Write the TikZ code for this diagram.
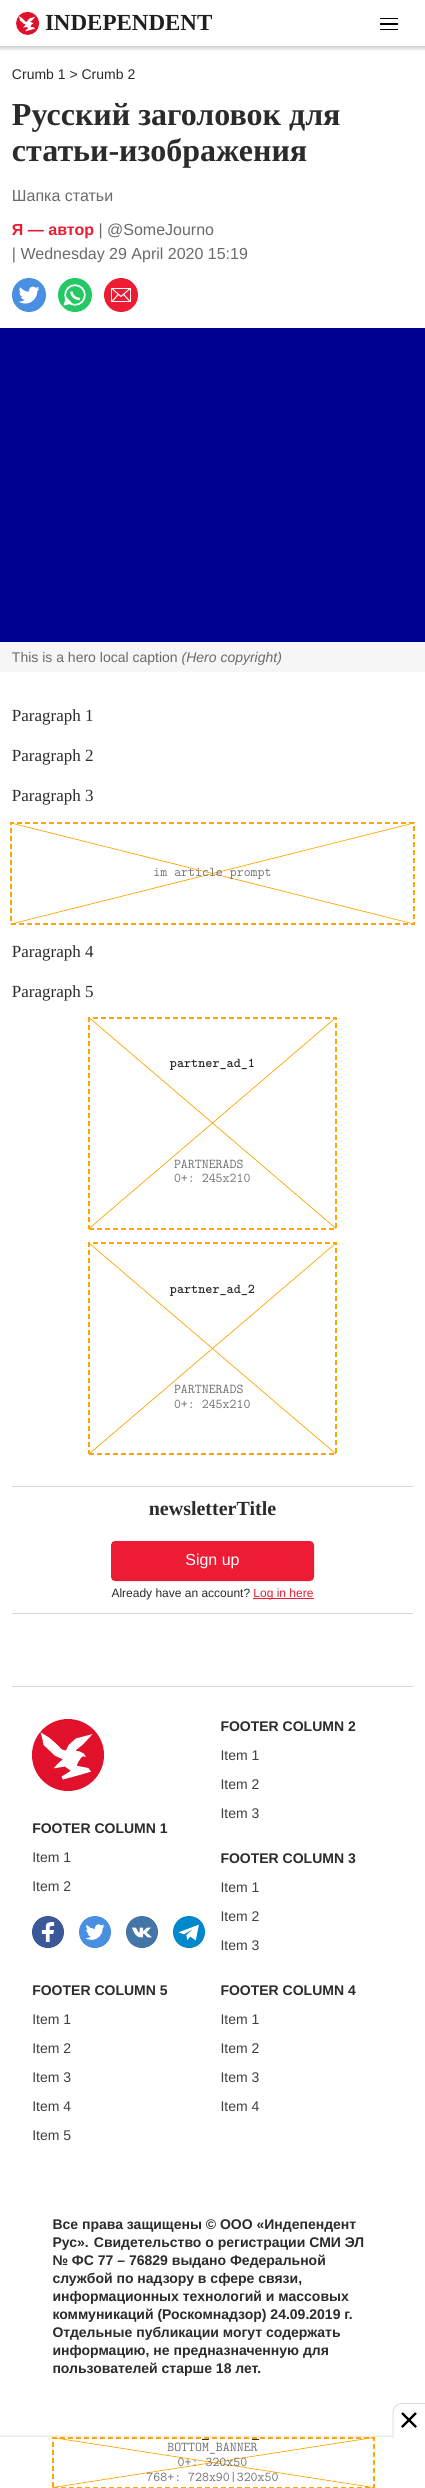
\documentclass[tikz,border=0pt]{standalone}
\usepackage{fontspec}
\setmainfont{Liberation Serif}
\setsansfont{Liberation Sans}
\usetikzlibrary{arrows.meta,positioning,calc}
\definecolor{indred}{HTML}{ED1B33}
\definecolor{logored}{HTML}{E2112B}
\definecolor{textmain}{HTML}{2B2B2B}
\definecolor{textlight}{HTML}{6B6B6B}
\definecolor{monogray}{HTML}{707070}
\definecolor{herodark}{HTML}{000090}
\definecolor{capfill}{HTML}{F6F6F6}
\definecolor{adorange}{HTML}{FFA500}
\definecolor{rulegray}{HTML}{D5D9DA}
\definecolor{twblue}{HTML}{4A90E2}
\definecolor{wagreen}{HTML}{25C964}
\definecolor{fbblue}{HTML}{3B5998}
\definecolor{vkblue}{HTML}{4376A6}
\definecolor{tgblue}{HTML}{0088CC}
\newcommand{\pxfont}[1]{\fontsize{#1}{#1}\selectfont}

\tikzset{
  every node/.style={inner sep=0pt, outer sep=0pt},
  sanstext/.style={anchor=base west, font=\sffamily\pxfont{14}, text=textmain},
  graytext/.style={anchor=base west, font=\sffamily\pxfont{16}, text=textlight},
  paratext/.style={anchor=base west, font=\rmfamily\pxfont{17}, text=textmain},
  titletext/.style={anchor=base west, font=\rmfamily\bfseries\pxfont{32}, text=textmain},
  foothead/.style={anchor=base west, font=\sffamily\bfseries\pxfont{14}, text=textmain},
  monotext/.style={font=\ttfamily\frenchspacing\pxfont{13.5}, text=monogray},
  monobold/.style={font=\ttfamily\bfseries\pxfont{13.5}, text=textmain},
  adbox/.style={rectangle, anchor=north west, draw=adorange, line width=2pt, dash pattern=on 5pt off 3pt},
  adcross/.style={adorange, line width=0.7pt},
  hrule/.style={rulegray, line width=1pt},
  roundicon/.style={circle, minimum size=#1},
  eagleicon/.pic={
    \fill[white] (-0.76,-0.63) -- (-0.52,-0.48) -- (-0.36,-0.34) -- (-0.18,-0.16) -- (-0.06,-0.12)
      -- (0.02,-0.28) -- (0.22,-0.46) -- (0.68,-0.58) -- (0.42,-0.30) -- (0.20,-0.12) -- (0.32,-0.10)
      -- (0.44,-0.04) -- (0.50,0.06) -- (0.42,0.03) -- (0.36,0.08) -- (0.28,0.20) -- (0.24,0.30)
      -- (0.56,0.36) -- (0.64,0.46) -- (0.30,0.56) -- (-0.14,0.68) -- (-0.18,0.60) -- (0.08,0.44)
      -- (-0.08,0.32) -- (-0.40,0.37) -- (-0.26,0.22) -- (-0.14,0.12) -- (-0.36,0.02) -- (-0.68,-0.28) -- (-0.70,-0.40) -- cycle;
  },
  birdicon/.pic={
    \fill[white, shift={(-12,-12)}] (23.95,4.57) .. controls (23.1,5) and (22.1,5.2) .. (21.13,5.35)
      .. controls (22.1,4.8) and (22.9,3.8) .. (23.29,2.62)
      .. controls (22.34,3.18) and (21.29,3.58) .. (20.16,3.8)
      .. controls (19.2,2.8) and (18,2.25) .. (16.6,2.25)
      .. controls (13.9,2.25) and (11.7,4.45) .. (11.7,7.17)
      .. controls (11.7,7.55) and (11.74,7.93) .. (11.83,8.29)
      .. controls (7.69,8.09) and (4.07,6.13) .. (1.64,3.16)
      .. controls (1.2,3.9) and (0.97,4.75) .. (0.97,5.64)
      .. controls (0.97,7.35) and (1.84,8.85) .. (3.16,9.73)
      .. controls (2.35,9.7) and (1.6,9.5) .. (0.93,9.12)
      -- (0.93,9.18)
      .. controls (0.93,11.57) and (2.63,13.55) .. (4.88,14.01)
      .. controls (4.15,14.2) and (3.4,14.23) .. (2.66,14.09)
      .. controls (3.3,16.05) and (5.1,17.46) .. (7.27,17.51)
      .. controls (5.5,18.9) and (3.3,19.62) .. (1.17,19.62)
      .. controls (0.78,19.62) and (0.39,19.6) .. (0,19.55)
      .. controls (2.2,20.95) and (4.8,21.76) .. (7.56,21.76)
      .. controls (16.61,21.76) and (21.56,14.26) .. (21.56,7.77)
      .. controls (21.56,7.56) and (21.56,7.35) .. (21.54,7.14)
      .. controls (22.5,6.45) and (23.34,5.6) .. (23.95,4.57) -- cycle;
  },
}

\begin{document}
\begin{tikzpicture}[x=1pt, y=-1pt]

\useasboundingbox (0,0) rectangle (425,2488);
\clip (0,0) rectangle (425,2488);
\fill[white] (0,0) rectangle (425,2488);

% Header
\shade[top color=black!14, bottom color=white] (0,47) rectangle (425,51);
\node[roundicon=23pt, fill=logored] (headlogo) at (27.6,23.4) {};
\pic[scale=11.3] at (headlogo) {eagleicon};
\node[anchor=base west, font=\rmfamily\bfseries\pxfont{23}, text=black!88] (headname) at (45,31) {INDEPENDENT};
\foreach \y in {18.5,24,29.5} {
  \draw[black, line width=1.8pt] (380,\y) -- (398,\y);
}

% Article top
\node[sanstext] (crumbs) at (12,80) {Crumb 1 > Crumb 2};
\node[titletext] (titleone) at (12,126) {Русский заголовок для};
\node[titletext] (titletwo) at (12,162) {статьи-изображения};
\node[graytext] (standfirst) at (12,201.5) {Шапка статьи};
\node[graytext] (byline) at (12,235.5) {\textcolor{indred}{\bfseries Я — автор} | @SomeJourno};
\node[graytext] (dateline) at (12,259.5) {| Wednesday 29 April 2020 15:19};

% Share icons
\node[roundicon=34pt, fill=twblue] (sharebird) at (29,295) {};
\pic[scale=0.875] at (sharebird) {birdicon};
\node[roundicon=34pt, fill=wagreen] (sharewa) at (75,295) {};
\begin{scope}[shift={(sharewa)}, scale=17]
  \draw[white, line width=1.7pt] (0,0) circle[radius=0.58];
  \fill[white] (-0.68,0.62) -- (-0.52,0.12) -- (-0.15,0.5) -- cycle;
  \draw[white, line width=2.4pt] (-0.22,-0.2) .. controls (-0.2,0.05) and (0,0.22) .. (0.28,0.24);
\end{scope}
\node[roundicon=34pt, fill=indred] (sharemail) at (121,295) {};
\begin{scope}[shift={(sharemail)}]
  \draw[white, line width=1pt] (-9.3,-6.7) rectangle (9.3,6.7);
  \draw[white, line width=1pt] (-9.3,-6.7) -- (0,1.5) -- (9.3,-6.7) (-9.3,6.7) -- (-2.5,-0.7) (9.3,6.7) -- (2.5,-0.7);
\end{scope}

% Hero image
\fill[herodark] (0,328) rectangle (425,642);
\fill[capfill] (0,642) rectangle (425,672);
\node[sanstext, text=textlight] (herocaption) at (12,662.5) {This is a hero local caption \textit{(Hero copyright)}};

% Paragraphs
\foreach \i/\y in {1/721.5,2/761.5,3/801.5,4/957,5/997} {
  \node[paratext] (para\i) at (12,\y) {Paragraph \i};
}

% Ad slots
\node[adbox, minimum width=403pt, minimum height=101pt] (promptad) at (11,823) {};
\draw[adcross] (promptad.north west) -- (promptad.south east);
\draw[adcross] (promptad.south west) -- (promptad.north east);
\node[monotext] (prompttext) at (212.5,874) {im article prompt};

\node[adbox, minimum width=247pt, minimum height=211pt] (partnerone) at (89,1017.5) {};
\draw[adcross] (partnerone.north west) -- (partnerone.south east);
\draw[adcross] (partnerone.south west) -- (partnerone.north east);
\node[monobold] (partnerlabelone) at (212.5,1065) {partner\_ad\_1};
\node[monotext, anchor=west] (partnernameone) at (174,1164) {PARTNERADS};
\node[monotext, anchor=west] (partnersizeone) at (174,1178.5) {0+: 245x210};

\node[adbox, minimum width=247pt, minimum height=211pt] (partnertwo) at (89,1243) {};
\draw[adcross] (partnertwo.north west) -- (partnertwo.south east);
\draw[adcross] (partnertwo.south west) -- (partnertwo.north east);
\node[monobold] (partnerlabeltwo) at (212.5,1291) {partner\_ad\_2};
\node[monotext, anchor=west] (partnernametwo) at (174,1389.5) {PARTNERADS};
\node[monotext, anchor=west] (partnersizetwo) at (174,1404) {0+: 245x210};

% Newsletter
\draw[hrule] (12,1486) -- (413,1486);
\node[anchor=base, font=\rmfamily\bfseries\pxfont{20}, text=textmain] (newstitle) at (212.5,1515) {newsletterTitle};
\node[rectangle, rounded corners=4pt, fill=indred, minimum width=203pt, minimum height=40pt, text=white, font=\sffamily\pxfont{16}] (signup) at (212.5,1561) {Sign up};
\node[anchor=base west, font=\sffamily\pxfont{12}, text=textmain] (loginask) at (111.5,1597) {Already have an account?};
\node[anchor=base east, font=\sffamily\pxfont{12}, text=indred] (loginlink) at (313.5,1597) {Log in here};
\draw[indred, line width=0.8pt] ($(loginlink.base west)+(0,1.5)$) -- ($(loginlink.base east)+(0,1.5)$);
\draw[hrule] (12,1613) -- (413,1613);
\draw[hrule] (12,1686.5) -- (413,1686.5);

% Footer
\node[roundicon=72pt, fill=logored] (footlogo) at (68,1755) {};
\pic[scale=36] at (footlogo) {eagleicon};
\foreach \cx/\cy/\num/\cnt in {32.3/1833/1/2, 220.5/1731/2/3, 220.5/1863/3/3, 220.5/1995/4/4, 32.3/1995/5/5} {
  \node[foothead] (foothead\num) at (\cx,\cy) {FOOTER COLUMN \num};
  \foreach \i in {1,...,\cnt} {
    \node[sanstext, text=textmain!90] (foot\num item\i) at (\cx,\cy+29*\i) {Item \i};
  }
}

% Social icons
\node[roundicon=32pt, fill=fbblue] (socialfb) at (48,1932) {};
\fill[white, shift={(socialfb)}, scale=16] (-0.14,0.62) -- (-0.14,0.12) -- (-0.38,0.12) -- (-0.38,-0.12)
  -- (-0.14,-0.12) -- (-0.14,-0.3) .. controls (-0.14,-0.55) and (0,-0.62) .. (0.15,-0.62) -- (0.38,-0.62)
  -- (0.38,-0.38) -- (0.22,-0.38) .. controls (0.12,-0.38) and (0.1,-0.33) .. (0.1,-0.25) -- (0.1,-0.12)
  -- (0.37,-0.12) -- (0.33,0.12) -- (0.1,0.12) -- (0.1,0.62) -- cycle;
\node[roundicon=32pt, fill=twblue] (socialbird) at (95,1932) {};
\pic[scale=0.8] at (socialbird) {birdicon};
\node[roundicon=32pt, fill=vkblue] (socialvk) at (142,1932) {};
\fill[white, shift={(socialvk)}, scale=16] (-0.62,-0.27) -- (-0.38,-0.27) -- (-0.22,0.02) -- (-0.15,0.02)
  -- (-0.15,-0.27) -- (0.05,-0.27) -- (0.08,-0.05) -- (0.3,-0.27) -- (0.55,-0.27) -- (0.28,0.03)
  -- (0.62,0.33) -- (0.36,0.33) -- (0.12,0.1) -- (0.06,0.12) -- (0.06,0.33) -- (-0.1,0.33)
  .. controls (-0.35,0.3) and (-0.5,0.1) .. cycle;
\node[roundicon=32pt, fill=tgblue] (socialtg) at (189,1932) {};
\fill[white, shift={(socialtg)}, scale=16] (-0.65,0.02) -- (0.62,-0.46) -- (0.42,0.52) -- (0.08,0.28)
  -- (-0.1,0.5) -- (-0.17,0.2) -- (0.3,-0.22) -- (-0.3,0.14) -- cycle;

% Copyright
\node[anchor=north west, align=left, font=\sffamily\bfseries\fontsize{14}{18}\selectfont, text=textmain] (copyright) at (52.5,2219.7) {Все права защищены © ООО «Индепендент\\
Рус». Свидетельство о регистрации СМИ ЭЛ\\
№ ФС 77 – 76829 выдано Федеральной\\
службой по надзору в сфере связи,\\
информационных технологий и массовых\\
коммуникаций (Роскомнадзор) 24.09.2019 г.\\
Отдельные публикации могут содержать\\
информацию, не предназначенную для\\
пользователей старше 18 лет.};

% Bottom banner and close tab
\shade[bottom color=black!12, top color=white] (0,2434) rectangle (393,2437);
\fill[white] (0,2437) rectangle (425,2488);
\draw[black!16, line width=0.8pt, fill=white] (425,2403.5) -- (402,2403.5) arc[start angle=90, end angle=180, radius=9pt] -- (393,2438);
\fill[white] (393.5,2437) rectangle (425,2440);
\draw[black, line width=2.2pt] (402,2413) -- (416,2427);
\draw[black, line width=2.2pt] (402,2427) -- (416,2413);
\node[adbox, minimum width=321pt, minimum height=50pt] (bottomad) at (52.5,2437.5) {};
\draw[adcross] (bottomad.north west) -- (bottomad.south east);
\draw[adcross] (bottomad.south west) -- (bottomad.north east);
\fill[black!80] (202,2438.7) rectangle (209.3,2439.7);
\fill[black!80] (251.7,2438.7) rectangle (259.3,2439.7);
\node[monotext] (bottomname) at (212.5,2448.5) {BOTTOM\_BANNER};
\node[monotext] (bottomsizeone) at (212.5,2462.7) {0+: 320x50};
\node[monotext] (bottomsizetwo) at (212.5,2477.7) {768+: 728x90|320x50};

\end{tikzpicture}
\end{document}
